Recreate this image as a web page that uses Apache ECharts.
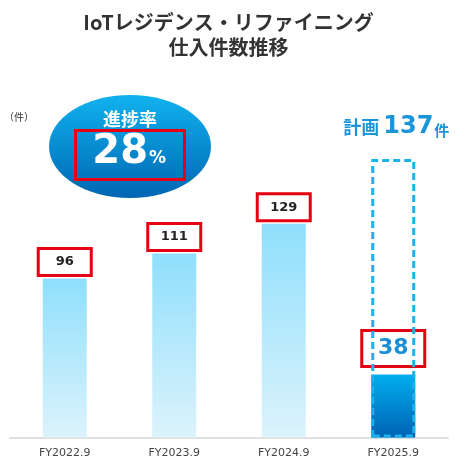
<!DOCTYPE html>
<html>
<head>
<meta charset="utf-8">
<script src="https://cdn.jsdelivr.net/npm/echarts@6/dist/echarts.min.js"></script>
<style>
  html, body { margin: 0; padding: 0; background: #fff; }
  #chart { width: 457px; height: 459px; }
</style>
</head>
<body>
<div id="chart"></div>
<script>
// データ
var categories = ["FY2022.9", "FY2023.9", "FY2024.9", "FY2025.9"];
var actuals = [96, 111, 129, 38];
var planValue = 137;
// 計画の点線枠（図上の高さ）
var planBox = [null, null, null, 168];
var progressRate = 28;

var chart = echarts.init(document.getElementById("chart"));
var numFont = '"DejaVu Sans", sans-serif';
var jpFont = '"Noto Sans CJK JP", sans-serif';

var lightBar = new echarts.graphic.LinearGradient(0, 0, 0, 1, [
  { offset: 0, color: "#8fdffc" },
  { offset: 1, color: "#dcf3fc" }
]);
var planBar = new echarts.graphic.LinearGradient(0, 0, 0, 1, [
  { offset: 0, color: "#00aeef" },
  { offset: 1, color: "#0062b2" }
]);

var barData = actuals.map(function (v, i) {
  if (i < actuals.length - 1) {
    return { value: v, itemStyle: { color: lightBar } };
  }
  return {
    value: v,
    itemStyle: { color: planBar },
    label: {
      color: "#1a8fd6",
      fontSize: 22,
      width: 63,
      height: 36,
      lineHeight: 36,
      distance: 8
    }
  };
});

var option = {
  animation: false,
  title: {
    text: "IoTレジデンス・リファイニング\n仕入件数推移",
    left: "center",
    top: 10,
    padding: 0,
    textStyle: {
      fontFamily: jpFont,
      fontSize: 20,
      lineHeight: 25,
      fontWeight: "bold",
      color: "#333"
    }
  },
  grid: { left: 10, right: 9, top: 106, bottom: 21.5 },
  xAxis: {
    type: "category",
    data: categories,
    axisTick: { show: false },
    axisLine: { lineStyle: { color: "#e0e0e0", width: 2 } },
    axisLabel: { color: "#444", fontSize: 11, fontFamily: numFont, margin: 10 }
  },
  yAxis: {
    type: "value",
    min: 0,
    max: 200,
    show: false
  },
  series: [
    {
      type: "bar",
      barWidth: 44,
      data: barData,
      label: {
        show: true,
        position: "top",
        distance: 3,
        formatter: "{c}",
        color: "#222",
        fontWeight: "bold",
        fontSize: 13,
        fontFamily: numFont,
        borderColor: "#e60012",
        borderWidth: 3,
        width: 53,
        height: 27,
        lineHeight: 27,
        align: "center"
      }
    },
    {
      type: "bar",
      barWidth: 44,
      barGap: "-100%",
      z: 5,
      data: planBox,
      itemStyle: {
        color: "rgba(0,0,0,0)",
        borderColor: "#1ab1ec",
        borderWidth: 3,
        borderType: [7, 4]
      },
      label: {
        show: true,
        position: "top",
        distance: 20,
        offset: [3, 0],
        formatter: "{a|計画 }{b|" + planValue + "}{c|件}",
        rich: {
          a: { fontFamily: jpFont, fontWeight: "bold", fontSize: 18, color: "#1a95da" },
          b: { fontFamily: numFont, fontWeight: "bold", fontSize: 24, color: "#1a95da" },
          c: { fontFamily: jpFont, fontWeight: "bold", fontSize: 15, color: "#1a95da", padding: [6, 0, 0, 1] }
        }
      }
    }
  ],
  graphic: [
    {
      type: "text",
      style: { text: "（件）", x: 4, y: 117, font: "10px " + jpFont, fill: "#333", textVerticalAlign: "middle" }
    },
    {
      type: "ellipse",
      shape: { cx: 130, cy: 146.5, rx: 81, ry: 51.5 },
      style: {
        fill: new echarts.graphic.LinearGradient(0, 0, 0, 1, [
          { offset: 0, color: "#10b2ee" },
          { offset: 1, color: "#0066b3" }
        ])
      }
    },
    {
      type: "text",
      style: {
        text: "進捗率", x: 130, y: 119, textAlign: "center", textVerticalAlign: "middle",
        font: "bold 18px " + jpFont, fill: "#fff"
      }
    },
    {
      type: "rect",
      shape: { x: 75.5, y: 130.5, width: 109, height: 49 },
      style: { fill: "none", stroke: "#e60012", lineWidth: 3 }
    },
    {
      type: "text",
      style: {
        text: String(progressRate), x: 148, y: 153, textAlign: "right", textVerticalAlign: "middle",
        font: "bold 40px " + numFont, fill: "#fff"
      }
    },
    {
      type: "text",
      style: {
        text: "%", x: 149, y: 159, textAlign: "left", textVerticalAlign: "middle",
        font: "bold 17px " + numFont, fill: "#fff"
      }
    }
  ]
};

chart.setOption(option);
</script>
</body>
</html>
